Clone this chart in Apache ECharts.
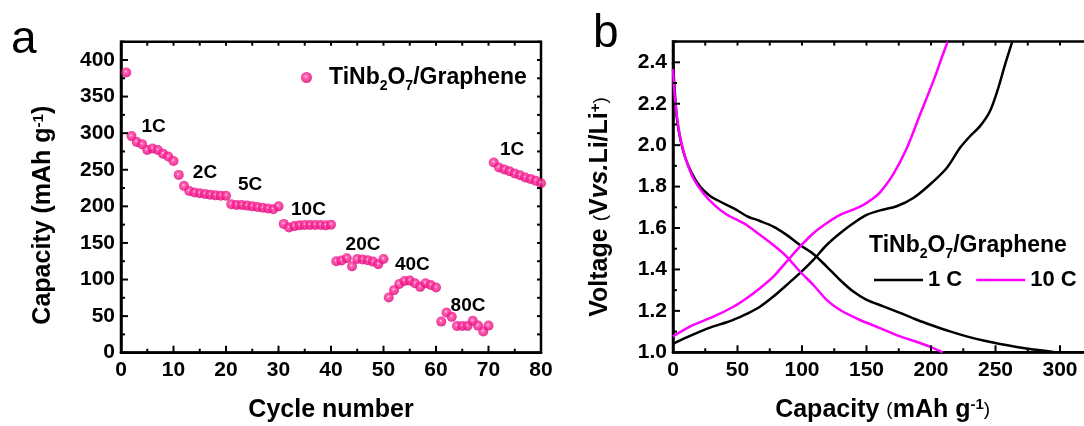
<!DOCTYPE html>
<html>
<head>
<meta charset="utf-8">
<script src="https://cdn.jsdelivr.net/npm/echarts@6/dist/echarts.min.js"></script>
<style>
  html, body { margin: 0; padding: 0; background: #fff; }
  #chart { width: 1084px; height: 426px; }
</style>
</head>
<body>
<div id="chart"></div>
<script>
// ---- Panel (a): rate performance, specific capacity vs. cycle ----
const cycles = Array.from({ length: 80 }, (_, i) => i + 1);
const capacity = [
  383, 296, 288, 285, 277, 279, 277, 272, 268, 262,
  243, 228, 221, 219, 218, 217, 216, 215, 214.5, 214.5,
  203, 202, 202, 201, 200, 199, 198, 197, 196, 200,
  176, 171, 173, 174, 174.5, 174.5, 174.5, 174.5, 174, 175,
  125, 126, 129, 118, 128, 127.5, 126.5, 124.5, 121, 128,
  75.5, 85.5, 94, 98, 98.5, 95, 90, 95, 92.5, 89,
  42.5, 55, 49, 36.5, 36.5, 36.5, 43.5, 37, 29, 37,
  260, 253, 250.5, 248, 245, 242.5, 239.5, 237.5, 235, 231.5
];
// C-rate annotations, anchored in (cycle, capacity) units
const rateNames = ['1C', '2C', '5C', '10C', '20C', '40C', '80C', '1C'];
const rateLabelCycle = [6.2, 16.0, 24.6, 35.7, 46.1, 55.5, 66.1, 74.5];
const rateLabelCapacity = [309, 246, 230, 196, 148, 120, 64, 278];

// ---- Panel (b): galvanostatic profiles [capacity mAh/g, voltage V] ----
const discharge1C = [
  [0, 2.40], [1.5, 2.25], [3, 2.13], [6, 2.02], [9.5, 1.94], [14.5, 1.865],
  [21, 1.80], [28.7, 1.755], [36.4, 1.728], [46.8, 1.696], [57.1, 1.658],
  [67.4, 1.634], [77.8, 1.607], [88.1, 1.567], [98.4, 1.518], [108.8, 1.475],
  [119.1, 1.414], [129.5, 1.349], [139.8, 1.293], [150.1, 1.253], [163, 1.222],
  [176, 1.19], [188.9, 1.157], [201.8, 1.128], [214.7, 1.101], [227.6, 1.077],
  [240.6, 1.057], [253.5, 1.040], [266.4, 1.026], [279.3, 1.014], [289.7, 1.006], [296, 1.0]
];
const charge1C = [
  [0, 1.041], [10.6, 1.072], [20.9, 1.100], [31.3, 1.125], [41.6, 1.145],
  [51.9, 1.170], [57.1, 1.185], [67.4, 1.220], [77.8, 1.269], [88.1, 1.325],
  [98.4, 1.382], [108.8, 1.446], [119.1, 1.518], [129.5, 1.575], [139.8, 1.623],
  [150.1, 1.663], [160.5, 1.685], [173.4, 1.705], [186.3, 1.745], [199.2, 1.810],
  [212.2, 1.890], [222.5, 1.987], [230.2, 2.043], [238, 2.092], [245.7, 2.164],
  [252.2, 2.277], [257.4, 2.389], [263, 2.5]
];
const discharge10C = [
  [0, 2.367], [1.6, 2.219], [4.1, 2.09], [6.7, 2.005], [10.6, 1.92], [15.8, 1.84],
  [23.5, 1.768], [32.6, 1.708], [41.6, 1.665], [51.9, 1.632], [57.1, 1.615],
  [67.4, 1.567], [77.8, 1.518], [88.1, 1.462], [98.4, 1.390], [108.8, 1.325],
  [119.1, 1.253], [129.5, 1.204], [145, 1.156], [160.5, 1.117], [176, 1.077],
  [191.5, 1.045], [201.8, 1.02], [209, 1.0]
];
const charge10C = [
  [0, 1.077], [15.8, 1.132], [31.3, 1.172], [46.8, 1.220], [57.1, 1.261],
  [67.4, 1.309], [77.8, 1.365], [88.1, 1.438], [98.4, 1.510], [108.8, 1.575],
  [119.1, 1.623], [129.5, 1.663], [145, 1.703], [155.3, 1.744], [160.5, 1.772],
  [170.8, 1.86], [181.2, 1.985], [191.5, 2.148], [201.8, 2.309], [208.3, 2.422], [212.9, 2.5]
];

// ---- Tick positions (major + minor) for the framed axes ----
const cycleTicks = [0, 5, 10, 15, 20, 25, 30, 35, 40, 45, 50, 55, 60, 65, 70, 75, 80];
const capacityTicks = [0, 25, 50, 75, 100, 125, 150, 175, 200, 225, 250, 275, 300, 325, 350, 375, 400, 425];
const profileCapacityTicks = [0, 25, 50, 75, 100, 125, 150, 175, 200, 225, 250, 275, 300, 325];
const voltageTicks = [1.0, 1.1, 1.2, 1.3, 1.4, 1.5, 1.6, 1.7, 1.8, 1.9, 2.0, 2.1, 2.2, 2.3, 2.4, 2.5];

const FONT = "'Liberation Sans', Arial, Helvetica, sans-serif";
const INK = '#000';
const PINK = '#ff00ff';
const FRAME_W = 2.5;
const MAJOR_LEN = 7;
const MINOR_LEN = 4;

const subRich = {
  s: { fontSize: 14, fontWeight: 'bold', fontFamily: FONT, fill: INK, color: INK, verticalAlign: 'bottom', padding: [0, 0, -4, 0] },
  sup: { fontSize: 15, fontWeight: 'bold', fontFamily: FONT, fill: INK, color: INK, verticalAlign: 'top' },
  sm: { fontSize: 19, fontWeight: 'normal', fontFamily: FONT, fill: INK, color: INK },
  it: { fontSize: 25, fontWeight: 'bold', fontStyle: 'italic', fontFamily: FONT, fill: INK, color: INK }
};
const labelStyle = { show: true, color: INK, fontSize: 21, fontWeight: 'bold', fontFamily: FONT };
const axisNameStyle = { color: INK, fontSize: 25, fontWeight: 'bold', fontFamily: FONT, rich: subRich };

const isMultiple = (v, step) => Math.abs(v / step - Math.round(v / step)) < 1e-6;

function valueAxis(gridIndex, position, min, max, interval, extra) {
  return Object.assign({
    type: 'value', gridIndex, position, min, max, interval,
    axisLine: { show: true, onZero: false, lineStyle: { color: INK, width: FRAME_W } },
    axisTick: { show: false },
    splitLine: { show: false },
    axisLabel: Object.assign({ margin: 7 }, labelStyle)
  }, extra || {});
}

// Inward ticks along the bottom (major/minor) and top (short) edges of a grid
function xTickSeries(axisIdx, ticks, majorStep, yAnchor) {
  return {
    type: 'custom', xAxisIndex: axisIdx, yAxisIndex: axisIdx, silent: true, z: 4,
    data: ticks.map(v => [v, yAnchor]),
    renderItem(params, api) {
      const cs = params.coordSys;
      const v = api.value(0);
      const x = api.coord([v, api.value(1)])[0];
      const bottom = cs.y + cs.height;
      const len = isMultiple(v, majorStep) ? MAJOR_LEN : MINOR_LEN;
      const st = { stroke: INK, lineWidth: 2 };
      return {
        type: 'group', children: [
          { type: 'line', shape: { x1: x, y1: bottom, x2: x, y2: bottom - len }, style: st },
          { type: 'line', shape: { x1: x, y1: cs.y, x2: x, y2: cs.y + MINOR_LEN }, style: st }
        ]
      };
    }
  };
}
// Inward ticks along the left (major/minor) and right (short) edges of a grid
function yTickSeries(axisIdx, ticks, majorStep, xAnchor) {
  return {
    type: 'custom', xAxisIndex: axisIdx, yAxisIndex: axisIdx, silent: true, z: 4,
    data: ticks.map(v => [xAnchor, v]),
    renderItem(params, api) {
      const cs = params.coordSys;
      const v = api.value(1);
      const y = api.coord([api.value(0), v])[1];
      const right = cs.x + cs.width;
      const len = isMultiple(v, majorStep) ? MAJOR_LEN : MINOR_LEN;
      const st = { stroke: INK, lineWidth: 2 };
      return {
        type: 'group', children: [
          { type: 'line', shape: { x1: cs.x, y1: y, x2: cs.x + len, y2: y }, style: st },
          { type: 'line', shape: { x1: right, y1: y, x2: right - MINOR_LEN, y2: y }, style: st }
        ]
      };
    }
  };
}

const option = {
  animation: false,
  grid: [
    { left: 121, top: 41.7, width: 420, height: 311, outerBoundsMode: 'none',
      show: true, borderColor: INK, borderWidth: FRAME_W },
    { left: 673, top: 41.6, width: 419.25, height: 310.7, outerBoundsMode: 'none',
      show: true, borderColor: INK, borderWidth: FRAME_W }
  ],
  xAxis: [
    valueAxis(0, 'bottom', 0, 80, 10, {
      name: 'Cycle number', nameLocation: 'middle', nameGap: 45, nameTextStyle: axisNameStyle
    }),
    valueAxis(1, 'bottom', 0, 325, 50, {
      name: 'Capacity {sm|(}mAh g{sup|-1}{sm|)}', nameLocation: 'middle', nameGap: 45,
      nameTextStyle: axisNameStyle,
      axisLabel: Object.assign({ margin: 7, showMaxLabel: false }, labelStyle)
    })
  ],
  yAxis: [
    valueAxis(0, 'left', 0, 425, 50, {
      name: 'Capacity (mAh g{sup|-1})', nameLocation: 'middle', nameGap: 65,
      nameTextStyle: Object.assign({}, axisNameStyle, { padding: [0, 36, 0, 0] }),
      axisLabel: Object.assign({ margin: 6, showMaxLabel: false }, labelStyle)
    }),
    valueAxis(1, 'left', 1.0, 2.5, 0.2, {
      name: 'Voltage {sm|(}V{it|vs.}Li/Li{sup|+}{sm|)}', nameLocation: 'middle', nameGap: 60,
      nameTextStyle: Object.assign({}, axisNameStyle, { padding: [0, 20, 0, 0] }),
      axisLabel: Object.assign({ margin: 6, showMaxLabel: false, formatter: v => v.toFixed(1) }, labelStyle)
    })
  ],
  legend: [
    {
      data: ['TiNb2O7/Graphene'],
      left: 296, top: 61,
      icon: 'circle', itemWidth: 11, itemHeight: 11,
      selectedMode: false,
      formatter: () => 'TiNb{s|2}O{s|7}/Graphene',
      textStyle: { color: INK, fontSize: 23, fontWeight: 'bold', fontFamily: FONT, rich: subRich, padding: [0, 0, 0, 12] }
    },
    {
      data: ['1 C', '10 C'],
      left: 869, top: 264,
      icon: 'rect', itemWidth: 49, itemHeight: 2.5, itemGap: 14,
      selectedMode: false,
      textStyle: { color: INK, fontSize: 22, fontWeight: 'bold', fontFamily: FONT }
    }
  ],
  graphic: [
    { type: 'text', left: 11, top: 17, style: { text: 'a', fill: INK, font: `normal 46px ${FONT}` } },
    { type: 'text', left: 593, top: 11, style: { text: 'b', fill: INK, font: `normal 46px ${FONT}` } },
    {
      type: 'text', left: 869, top: 234,
      style: { text: 'TiNb{s|2}O{s|7}/Graphene', fill: INK, font: `bold 23px ${FONT}`, rich: subRich }
    }
  ],
  series: [
    {
      type: 'scatter', name: 'TiNb2O7/Graphene', xAxisIndex: 0, yAxisIndex: 0,
      symbol: 'circle', symbolSize: 10, z: 3,
      itemStyle: {
        color: new echarts.graphic.RadialGradient(0.45, 0.42, 0.6, [
          { offset: 0, color: '#ffd0e8' },
          { offset: 0.25, color: '#ff3d9e' },
          { offset: 0.7, color: '#f0108a' },
          { offset: 1, color: '#d4006e' }
        ])
      },
      data: cycles.map((c, i) => [c, capacity[i]])
    },
    {
      // C-rate annotations
      type: 'custom', name: 'rates', xAxisIndex: 0, yAxisIndex: 0, silent: true, z: 5,
      data: rateNames.map((n, i) => [rateLabelCycle[i], rateLabelCapacity[i]]),
      renderItem(params, api) {
        const p = api.coord([api.value(0), api.value(1)]);
        return {
          type: 'text', x: p[0], y: p[1],
          style: {
            text: rateNames[params.dataIndex], fill: INK,
            font: `bold 19px ${FONT}`, align: 'center', verticalAlign: 'middle'
          }
        };
      }
    },
    xTickSeries(0, cycleTicks, 10, 0),
    yTickSeries(0, capacityTicks, 50, 0),
    xTickSeries(1, profileCapacityTicks, 50, 1.0),
    yTickSeries(1, voltageTicks, 0.2, 0),
    {
      type: 'line', name: '1 C', xAxisIndex: 1, yAxisIndex: 1, data: discharge1C,
      symbol: 'none', smooth: 0.3, color: INK, lineStyle: { color: INK, width: 2.5 }
    },
    {
      type: 'line', name: '1 C', xAxisIndex: 1, yAxisIndex: 1, data: charge1C,
      symbol: 'none', smooth: 0.3, color: INK, lineStyle: { color: INK, width: 2.5 }
    },
    {
      type: 'line', name: '10 C', xAxisIndex: 1, yAxisIndex: 1, data: discharge10C,
      symbol: 'none', smooth: 0.3, color: PINK, lineStyle: { color: PINK, width: 2.5 }
    },
    {
      type: 'line', name: '10 C', xAxisIndex: 1, yAxisIndex: 1, data: charge10C,
      symbol: 'none', smooth: 0.3, color: PINK, lineStyle: { color: PINK, width: 2.5 }
    }
  ]
};

const chart = echarts.init(document.getElementById('chart'));
chart.setOption(option);
</script>
</body>
</html>
